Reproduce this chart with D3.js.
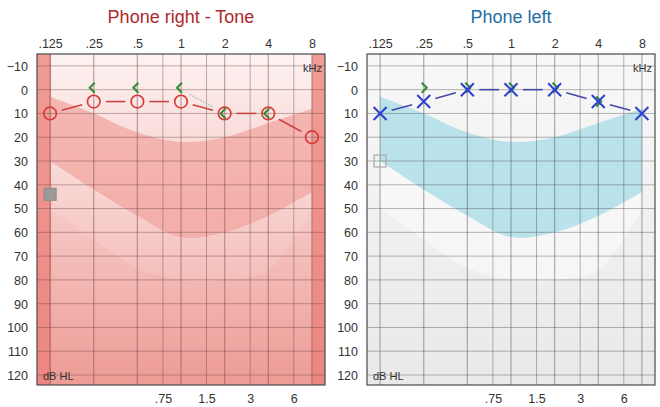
<!DOCTYPE html>
<html><head><meta charset="utf-8">
<script src="https://cdn.jsdelivr.net/npm/d3@7"></script>
<style>
html,body{margin:0;padding:0;background:#fff;}
svg{display:block;font-family:"Liberation Sans",Arial,sans-serif;}
</style></head>
<body>
<svg id="chart" width="660" height="407"></svg>
<script>
// ---- data ----
const freqs = [0.125, 0.25, 0.5, 1, 2, 4, 8];
const freqLabels = [".125", ".25", ".5", "1", "2", "4", "8"];
const midFreqs = [0.75, 1.5, 3, 6];
const midLabels = [".75", "1.5", "3", "6"];
const dbTicks = [-10, 0, 10, 20, 30, 40, 50, 60, 70, 80, 90, 100, 110, 120];

const rightAir = [10, 5, 5, 5, 10, 10, 20];
const rightBoneFreqs = [0.25, 0.5, 1, 2, 4];
const rightBone = [0, 0, 0, 10, 10];
const rightMaskFreqs = [0.125];
const rightMask = [44];

const leftAir = [10, 5, 0, 0, 0, 5, 10];
const leftBoneFreqs = [0.25, 0.5, 1, 2, 4];
const leftBone = [0, 0, 0, 0, 5];
const leftMaskFreqs = [0.125];
const leftMask = [30];

const bananaUpper = [3, 10, 18, 22, 20, 14, 8];
const bananaLower = [30, 42, 53, 62, 60, 53, 43];
const fadeLower = [50, 63, 75, 80, 80, 76, 50];

const titles = ["Phone right - Tone", "Phone left"];

// ---- layout ----
const svg = d3.select("#chart");
const defs = svg.append("defs");

function gradient(id, top, bottom) {
  const g = defs.append("linearGradient").attr("id", id)
    .attr("x1", 0).attr("y1", 0).attr("x2", 0).attr("y2", 1);
  g.append("stop").attr("offset", "0%").attr("stop-color", top);
  g.append("stop").attr("offset", "100%").attr("stop-color", bottom);
}
gradient("bgR", "#fdf3f2", "#ee9b95");
gradient("stripR", "#f19c96", "#ec8680");
gradient("bgL", "#f8f8f8", "#e9e9e9");

const plotL = 37, plotR = 325, plotT = 54, plotB = 385;
const x = d3.scaleLog().base(2)
  .domain([0.125 / Math.pow(2, 0.3), 8 * Math.pow(2, 0.3)])
  .range([plotL, plotR]);
const y = d3.scaleLinear().domain([-15, 124.2]).range([plotT, plotB]);

function shortSeg(x1, y1, x2, y2, a, b) {
  const dx = x2 - x1, dy = y2 - y1, L = Math.hypot(dx, dy);
  return [x1 + dx * a / L, y1 + dy * a / L, x2 - dx * b / L, y2 - dy * b / L];
}

function panel(idx) {
  const ox = idx * 330;
  const isRight = idx === 0;
  const g = svg.append("g").attr("transform", `translate(${ox},0)`);
  const clipId = "clip" + idx;
  defs.append("clipPath").attr("id", clipId).append("rect")
    .attr("x", plotL).attr("y", plotT).attr("width", plotR - plotL).attr("height", plotB - plotT);

  // title
  g.append("text").attr("x", (plotL + plotR) / 2).attr("y", 23)
    .attr("text-anchor", "middle").attr("font-size", 18)
    .attr("fill", isRight ? "#ad2a2a" : "#1f6ea6")
    .text(titles[idx]);

  const plot = g.append("g").attr("clip-path", `url(#${clipId})`);
  plot.append("rect").attr("x", plotL).attr("y", plotT)
    .attr("width", plotR - plotL).attr("height", plotB - plotT)
    .attr("fill", isRight ? "url(#bgR)" : "url(#bgL)");

  const idxs = d3.range(freqs.length);
  // fade region below banana
  const fade = d3.area().curve(d3.curveCatmullRom)
    .x(i => x(freqs[i])).y0(i => y(fadeLower[i])).y1(i => y(bananaLower[i]));
  plot.append("path").attr("d", fade(idxs))
    .attr("fill", "#ffffff").attr("opacity", isRight ? 0.12 : 0.45);

  // banana
  const banana = d3.area().curve(d3.curveCatmullRom)
    .x(i => x(freqs[i])).y0(i => y(bananaLower[i])).y1(i => y(bananaUpper[i]));
  plot.append("path").attr("d", banana(idxs))
    .attr("fill", isRight ? "#f2aaa4" : "#b9e2eb")
    .attr("opacity", isRight ? 0.8 : 1);

  if (isRight) {
    plot.append("rect").attr("x", plotL).attr("y", plotT)
      .attr("width", x(0.125) + 1 - plotL).attr("height", plotB - plotT).attr("fill", "url(#stripR)");
    plot.append("rect").attr("x", x(8)).attr("y", plotT)
      .attr("width", plotR - x(8)).attr("height", plotB - plotT).attr("fill", "url(#stripR)");
  }

  // grid
  const gridCol = isRight ? "rgba(110,70,70,0.42)" : "rgba(80,80,80,0.42)";
  plot.selectAll("line.h").data(dbTicks).join("line")
    .attr("x1", plotL).attr("x2", plotR).attr("y1", d => y(d)).attr("y2", d => y(d))
    .attr("stroke", gridCol).attr("stroke-width", 1);
  plot.selectAll("line.v").data(freqs).join("line")
    .attr("x1", d => x(d)).attr("x2", d => x(d)).attr("y1", plotT).attr("y2", plotB)
    .attr("stroke", gridCol).attr("stroke-width", 1.3);
  plot.selectAll("line.m").data(midFreqs).join("line")
    .attr("x1", d => x(d)).attr("x2", d => x(d)).attr("y1", plotT).attr("y2", plotB)
    .attr("stroke", gridCol).attr("stroke-width", 1);

  // border
  g.append("rect").attr("x", plotL).attr("y", plotT)
    .attr("width", plotR - plotL).attr("height", plotB - plotT)
    .attr("fill", "none").attr("stroke", "#4a4a4a").attr("stroke-width", 1.2);

  // axis labels
  const top = d3.axisTop(x).tickValues(freqs).tickFormat((d, i) => freqLabels[i]).tickSize(0).tickPadding(0);
  const ta = g.append("g").attr("transform", "translate(0,48)").call(top);
  ta.select(".domain").remove();
  ta.selectAll("text").attr("font-size", 12.5).attr("fill", "#333").attr("font-family", "Liberation Sans, Arial, sans-serif").attr("dy", 0);

  const bot = d3.axisBottom(x).tickValues(midFreqs).tickFormat((d, i) => midLabels[i]).tickSize(0).tickPadding(0);
  const ba = g.append("g").attr("transform", "translate(0,403)").call(bot);
  ba.select(".domain").remove();
  ba.selectAll("text").attr("font-size", 12.5).attr("fill", "#333").attr("font-family", "Liberation Sans, Arial, sans-serif").attr("dy", 0);

  const left = d3.axisLeft(y).tickValues(dbTicks).tickSize(0).tickPadding(0);
  const la = g.append("g").attr("transform", "translate(28,0)").call(left);
  la.select(".domain").remove();
  la.selectAll("text").attr("font-size", 12.5).attr("fill", "#333").attr("font-family", "Liberation Sans, Arial, sans-serif").attr("dy", "0.35em");

  g.append("text").attr("x", plotR - 3).attr("y", 72).attr("text-anchor", "end")
    .attr("font-size", 11).attr("fill", "#333").text("kHz");
  g.append("text").attr("x", plotL + 6).attr("y", 380)
    .attr("font-size", 11).attr("fill", "#333").text("dB HL");

  const air = isRight ? rightAir : leftAir;
  const boneF = isRight ? rightBoneFreqs : leftBoneFreqs;
  const bone = isRight ? rightBone : leftBone;
  const maskF = isRight ? rightMaskFreqs : leftMaskFreqs;
  const mask = isRight ? rightMask : leftMask;

  // masking squares
  g.selectAll("rect.mask").data(mask).join("rect")
    .attr("x", (d, i) => x(maskF[i]) - 6).attr("y", d => y(d) - 6)
    .attr("width", 12).attr("height", 12)
    .attr("fill", isRight ? "#9a9a9a" : "none")
    .attr("stroke", isRight ? "#8f8f8f" : "#aaaaaa").attr("stroke-width", 1.2);

  // connecting lines (air)
  const segs = d3.range(air.length - 1).map(i =>
    shortSeg(x(freqs[i]), y(air[i]), x(freqs[i + 1]), y(air[i + 1]), 12, 12));
  g.selectAll("line.air").data(segs).join("line")
    .attr("x1", d => d[0]).attr("y1", d => d[1]).attr("x2", d => d[2]).attr("y2", d => d[3])
    .attr("stroke", isRight ? "#cc4444" : "#4646aa").attr("stroke-width", 1.6);

  // bone conduction
  const boneCol = "#2f8a35";
  if (isRight) {
    const bi = boneF.indexOf(1), bj = boneF.indexOf(2);
    const s = shortSeg(x(boneF[bi]), y(bone[bi]), x(boneF[bj]), y(bone[bj]), 10, 14);
    g.append("line").attr("x1", s[0]).attr("y1", s[1]).attr("x2", s[2]).attr("y2", s[3])
      .attr("stroke", "#9fbcae").attr("stroke-width", 1.4).attr("stroke-dasharray", "1.5,1.5");
  }
  g.selectAll("path.bone").data(bone).join("path")
    .attr("d", (d, i) => {
      const cx = x(boneF[i]), cy = y(d) - (d === 0 ? 2 : 0);
      return isRight
        ? `M${cx + 1},${cy - 5}L${cx - 4},${cy}L${cx + 1},${cy + 5}`
        : `M${cx - 2},${cy - 5}L${cx + 3},${cy}L${cx - 2},${cy + 5}`;
    })
    .attr("fill", "none").attr("stroke", boneCol).attr("stroke-width", 2);

  // air markers
  if (isRight) {
    g.selectAll("circle.air").data(air).join("circle")
      .attr("cx", (d, i) => x(freqs[i])).attr("cy", d => y(d)).attr("r", 6.3)
      .attr("fill", "none").attr("stroke", "#d93a3a").attr("stroke-width", 1.7);
  } else {
    g.selectAll("path.air").data(air).join("path")
      .attr("d", (d, i) => {
        const cx = x(freqs[i]), cy = y(d), s = 6.5;
        return `M${cx - s},${cy - s}L${cx + s},${cy + s}M${cx + s},${cy - s}L${cx - s},${cy + s}`;
      })
      .attr("stroke", "#2d3fcf").attr("stroke-width", 2);
  }
}
panel(0);
panel(1);
</script>
</body></html>
